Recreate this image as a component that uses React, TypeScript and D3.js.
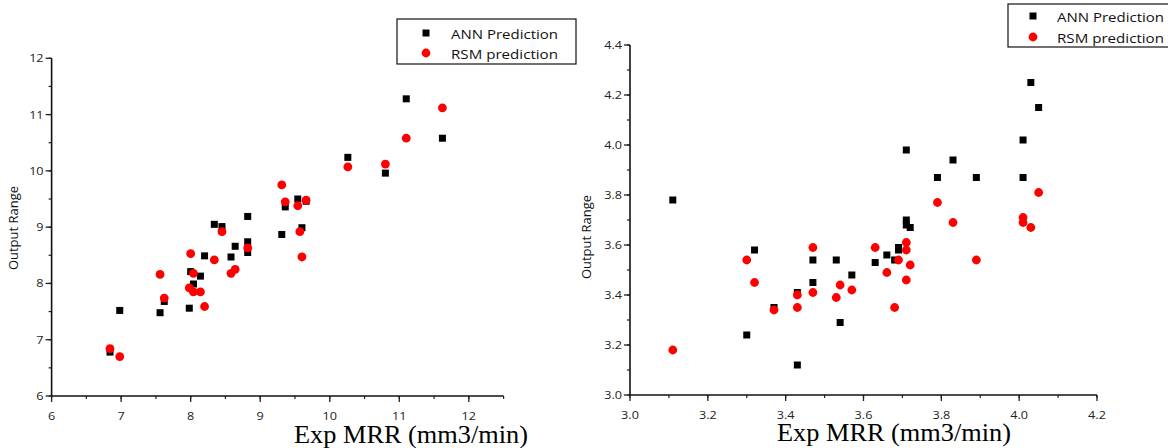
import React, { useEffect, useRef } from 'react';
import * as d3 from 'd3';

// left chart: ANN / RSM predictions vs experimental MRR
const annLeftX = [6.84, 6.98, 7.56, 7.62, 7.98, 8.0, 8.04, 8.14, 8.2, 8.34, 8.45, 8.58, 8.64, 8.82, 8.82, 8.82, 9.31, 9.36, 9.54, 9.6, 9.66, 10.26, 10.8, 11.1, 11.62];
const annLeftY = [6.78, 7.52, 7.48, 7.68, 7.56, 8.21, 7.99, 8.13, 8.49, 9.05, 9.01, 8.47, 8.66, 9.19, 8.74, 8.55, 8.87, 9.36, 9.5, 8.99, 9.46, 10.24, 9.96, 11.28, 10.58];
const rsmLeftX = [6.84, 6.98, 7.56, 7.62, 8.0, 7.98, 8.04, 8.04, 8.14, 8.2, 8.34, 8.45, 8.58, 8.64, 8.82, 9.31, 9.36, 9.54, 9.57, 9.6, 9.66, 10.26, 10.8, 11.1, 11.62];
const rsmLeftY = [6.84, 6.7, 8.16, 7.74, 8.53, 7.92, 8.18, 7.85, 7.85, 7.59, 8.42, 8.92, 8.18, 8.25, 8.63, 9.75, 9.45, 9.38, 8.92, 8.47, 9.48, 10.07, 10.12, 10.58, 11.12];

// right chart
const annRightX = [3.11, 3.32, 3.3, 3.37, 3.43, 3.43, 3.47, 3.47, 3.53, 3.54, 3.57, 3.63, 3.66, 3.68, 3.69, 3.69, 3.71, 3.71, 3.71, 3.72, 3.79, 3.83, 3.89, 4.01, 4.01, 4.03, 4.05];
const annRightY = [3.78, 3.58, 3.24, 3.35, 3.41, 3.12, 3.54, 3.45, 3.54, 3.29, 3.48, 3.53, 3.56, 3.54, 3.59, 3.58, 3.98, 3.7, 3.68, 3.67, 3.87, 3.94, 3.87, 4.02, 3.87, 4.25, 4.15];
const rsmRightX = [3.11, 3.3, 3.32, 3.37, 3.43, 3.43, 3.47, 3.47, 3.53, 3.54, 3.57, 3.63, 3.66, 3.68, 3.69, 3.71, 3.71, 3.71, 3.72, 3.79, 3.83, 3.89, 4.01, 4.01, 4.03, 4.05];
const rsmRightY = [3.18, 3.54, 3.45, 3.34, 3.4, 3.35, 3.59, 3.41, 3.39, 3.44, 3.42, 3.59, 3.49, 3.35, 3.54, 3.61, 3.58, 3.46, 3.52, 3.77, 3.69, 3.54, 3.71, 3.69, 3.67, 3.81];

const leftXTicks = [6, 7, 8, 9, 10, 11, 12];
const leftYTicks = [6, 7, 8, 9, 10, 11, 12];
const rightXTicks = [3.0, 3.2, 3.4, 3.6, 3.8, 4.0, 4.2];
const rightYTicks = [3.0, 3.2, 3.4, 3.6, 3.8, 4.0, 4.2, 4.4];

const seriesNames = ['ANN Prediction', 'RSM prediction'];
const xTitle = 'Exp MRR (mm3/min)';
const yTitle = 'Output Range';

const FONT = "'Open Sans', sans-serif";
const STRETCH = 1.15; // the original picture is a little wider than tall

function drawChart(svg, cfg) {
    const x = d3.scaleLinear().domain(cfg.xDomain).range(cfg.xRange);
    const y = d3.scaleLinear().domain(cfg.yDomain).range(cfg.yRange);
    const g = svg.append('g');
    const x0 = cfg.xRange[0], y0 = cfg.yRange[0];

    // minor ticks
    const xMinor = d3.range(cfg.xDomain[0], cfg.xDomain[1] + 1e-9, cfg.xMinor);
    const yMinor = d3.range(cfg.yDomain[0], cfg.yDomain[1] + 1e-9, cfg.yMinor);
    g.selectAll('.xm').data(xMinor).enter().append('line')
        .attr('x1', d => x(d)).attr('x2', d => x(d))
        .attr('y1', y0).attr('y2', y0 + 3)
        .attr('stroke', '#222').attr('stroke-width', 1.2);
    g.selectAll('.ym').data(yMinor).enter().append('line')
        .attr('x1', x0 - 3).attr('x2', x0)
        .attr('y1', d => y(d)).attr('y2', d => y(d))
        .attr('stroke', '#222').attr('stroke-width', 1.2);

    // major ticks
    g.selectAll('.xt').data(cfg.xTicks).enter().append('line')
        .attr('x1', d => x(d)).attr('x2', d => x(d))
        .attr('y1', y0).attr('y2', y0 + 6)
        .attr('stroke', '#222').attr('stroke-width', 1.3);
    g.selectAll('.yt').data(cfg.yTicks).enter().append('line')
        .attr('x1', x0 - 6).attr('x2', x0)
        .attr('y1', d => y(d)).attr('y2', d => y(d))
        .attr('stroke', '#222').attr('stroke-width', 1.3);

    g.selectAll('.xl').data(cfg.xTicks).enter().append('text')
        .attr('transform', d => `translate(${x(d)},${y0 + 24}) scale(${STRETCH},1)`)
        .attr('text-anchor', 'middle')
        .style('font-family', FONT).style('font-size', '11px').attr('fill', '#222')
        .text(cfg.fmt);
    g.selectAll('.yl').data(cfg.yTicks).enter().append('text')
        .attr('transform', d => `translate(${x0 - 8},${y(d) + 4}) scale(${STRETCH},1)`)
        .attr('text-anchor', 'end')
        .style('font-family', FONT).style('font-size', '11px').attr('fill', '#222')
        .text(cfg.fmt);

    // axis lines
    g.append('line').attr('x1', x0).attr('x2', cfg.xRange[1]).attr('y1', y0).attr('y2', y0)
        .attr('stroke', '#111').attr('stroke-width', 1.6);
    g.append('line').attr('x1', x0).attr('x2', x0).attr('y1', y0).attr('y2', cfg.yRange[1])
        .attr('stroke', '#111').attr('stroke-width', 1.6);

    // titles
    g.append('text')
        .attr('x', cfg.xTitleX).attr('y', cfg.xTitleY)
        .attr('text-anchor', 'middle')
        .attr('textLength', 234).attr('lengthAdjust', 'spacingAndGlyphs')
        .style('font-family', "'Liberation Serif', 'Times New Roman', serif").style('font-size', '25px')
        .text(xTitle);
    g.append('text')
        .attr('transform', `translate(${cfg.yTitleX},${cfg.yTitleY}) rotate(-90)`)
        .attr('text-anchor', 'middle')
        .style('font-family', FONT).style('font-size', '13px').attr('fill', '#111')
        .text(yTitle);

    // points
    g.selectAll('.ann').data(d3.zip(cfg.annX, cfg.annY)).enter().append('rect')
        .attr('x', d => x(d[0]) - 3.5).attr('y', d => y(d[1]) - 3.5)
        .attr('width', 7).attr('height', 7).attr('fill', '#000');
    g.selectAll('.rsm').data(d3.zip(cfg.rsmX, cfg.rsmY)).enter().append('circle')
        .attr('cx', d => x(d[0])).attr('cy', d => y(d[1]))
        .attr('r', 4.4).attr('fill', '#ff0000');

    // legend
    const L = cfg.legend;
    g.append('rect').attr('x', L.x).attr('y', L.y).attr('width', L.w).attr('height', L.h)
        .attr('fill', 'white').attr('stroke', '#111').attr('stroke-width', 1.2);
    g.append('rect').attr('x', L.mx - 3.5).attr('y', L.r1 - 3.5).attr('width', 7).attr('height', 7).attr('fill', '#000');
    g.append('circle').attr('cx', L.mx).attr('cy', L.r2).attr('r', 4.4).attr('fill', '#ff0000');
    seriesNames.forEach((name, i) => {
        g.append('text')
            .attr('x', L.tx).attr('y', (i === 0 ? L.r1 : L.r2) + L.dy)
            .attr('textLength', 107).attr('lengthAdjust', 'spacingAndGlyphs')
            .style('font-family', FONT).style('font-size', '13.5px').attr('fill', '#111')
            .text(name);
    });
}

export default function App() {
    const ref = useRef(null);

    useEffect(() => {
        const svg = d3.select(ref.current);
        svg.selectAll('*').remove();

        drawChart(svg, {
            xDomain: [6, 12.5], xRange: [51.6, 503.6],
            yDomain: [6, 12], yRange: [396, 58.3],
            xTicks: leftXTicks, yTicks: leftYTicks, xMinor: 0.5, yMinor: 0.5,
            fmt: d => String(d),
            annX: annLeftX, annY: annLeftY, rsmX: rsmLeftX, rsmY: rsmLeftY,
            xTitleX: 411, xTitleY: 443, yTitleX: 18, yTitleY: 228,
            legend: { x: 397, y: 19, w: 179, h: 45, mx: 426, r1: 33, r2: 53, tx: 451, dy: 6 },
        });
        drawChart(svg, {
            xDomain: [3.0, 4.2], xRange: [630, 1097],
            yDomain: [3.0, 4.4], yRange: [395, 45],
            xTicks: rightXTicks, yTicks: rightYTicks, xMinor: 0.1, yMinor: 0.1,
            fmt: d => d.toFixed(1),
            annX: annRightX, annY: annRightY, rsmX: rsmRightX, rsmY: rsmRightY,
            xTitleX: 894, xTitleY: 441, yTitleX: 591, yTitleY: 237,
            legend: { x: 1008, y: 4, w: 179, h: 43, mx: 1033, r1: 16, r2: 37, tx: 1057, dy: 6 },
        });
    }, []);

    return (
        <svg ref={ref} width={1168} height={448}
            style={{ position: 'absolute', left: 0, top: 0, background: 'white' }} />
    );
}
